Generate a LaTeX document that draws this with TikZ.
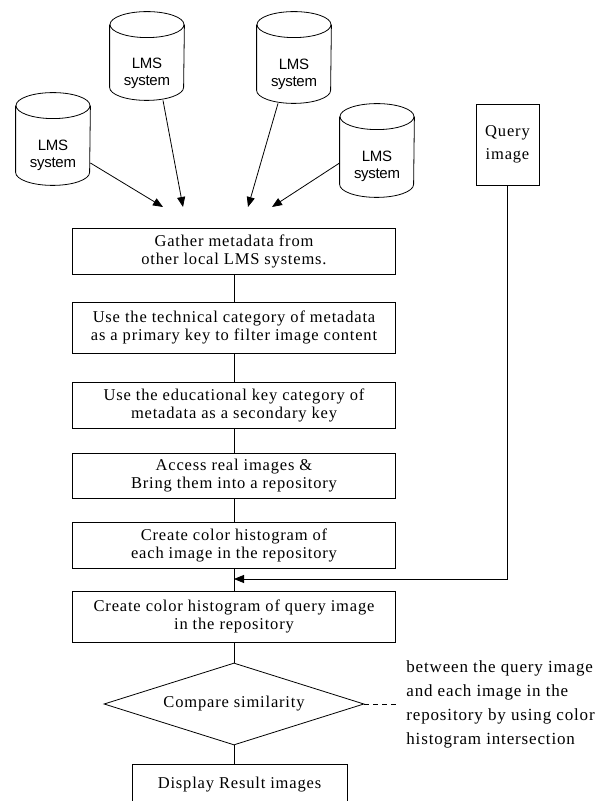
\documentclass[tikz,border=0pt]{standalone}
\usepackage{fontspec}
\setmainfont{Liberation Serif}[LetterSpace=5]
\newfontfamily\cylfont{Liberation Sans}[LetterSpace=-2]
\usetikzlibrary{arrows.meta,shapes.geometric}
\begin{document}
\begin{tikzpicture}[x=1pt,y=1pt,
  line width=0.8pt,
  every node/.style={inner sep=0pt},
  txt/.style={font=\fontsize{16.5}{18}\selectfont, align=center},
  stepbox/.style={draw, txt, minimum width=323pt},
  cylbox/.style={minimum width=74pt},
  cyltext/.style={font=\cylfont\fontsize{15}{17}\selectfont, align=center},
  arr/.style={-{Triangle[length=10pt,width=8pt]}},
  ]
\useasboundingbox (0,0) rectangle (606,801);
\clip (0,0) rectangle (606,801);
% cylinders
\newcommand\cylout[1]{%
  \draw ([yshift=-13pt]#1.north) ellipse [x radius=37pt, y radius=13pt];
  \draw ([yshift=-13pt]#1.north west) -- ([yshift=13pt]#1.south west)
    arc [start angle=180, end angle=360, x radius=37pt, y radius=13pt]
    -- ([yshift=-13pt]#1.north east);}
\node[cylbox, minimum height=92pt] (c1) at (53,662) {};
\node[cylbox, minimum height=88pt] (c2) at (147,745) {};
\node[cylbox, minimum height=91pt] (c3) at (294,743.5) {};
\node[cylbox, minimum height=93pt] (c4) at (377,650.5) {};
\cylout{c1}\cylout{c2}\cylout{c3}\cylout{c4}
\node[cyltext] (t1) at ([yshift=-16pt]c1.center) {LMS\\system};
\node[cyltext] (t2) at ([yshift=-17pt]c2.center) {LMS\\system};
\node[cyltext] (t3) at ([yshift=-17pt]c3.center) {LMS\\system};
\node[cyltext] (t4) at ([yshift=-16pt]c4.center) {LMS\\system};
\coordinate (a1) at (163,594);
\coordinate (a2) at (183,594);
\coordinate (a3) at (248,594);
\coordinate (a4) at (272,594);
\draw[arr] ([yshift=-24pt]c1.east) -- (a1);
\draw[arr] ([xshift=16pt]c2.south) -- (a2);
\draw[arr] ([xshift=-16pt]c3.south) -- (a3);
\draw[arr] ([yshift=-12.5pt]c4.west) -- (a4);
% query image
\node[draw, font=\fontsize{16.5}{23}\selectfont, align=center, minimum width=63pt, minimum height=81pt] (q) at (507.5,656.5) {Query\\image};
% main flow
\node[stepbox, minimum height=46pt] (b1) at (234,550) {Gather metadata from\\other local LMS systems.};
\node[stepbox, minimum height=51pt] (b2) at (234,473.5) {Use the technical category of metadata\\as a primary key to filter image content};
\node[stepbox, minimum height=46pt] (b3) at (234,396) {Use the educational key category of\\metadata as a secondary key};
\node[stepbox, minimum height=45pt] (b4) at (234,325.5) {Access real images \&\\Bring them into a repository};
\node[stepbox, minimum height=46pt] (b5) at (234,256) {Create color histogram of\\each image in the repository};
\node[stepbox, minimum height=51pt] (b6) at (234,184.5) {Create color histogram of query image\\in the repository};
\node[draw, diamond, aspect=3.17, minimum width=260pt, minimum height=82pt] (d) at (234,97) {};
\node[txt] (dt) at (d.center) {Compare similarity};
\node[stepbox, minimum width=215pt, minimum height=42pt] (b7) at (239.5,16) {Display Result images};
\draw (b1) -- (b2);
\draw (b2) -- (b3);
\draw (b3) -- (b4);
\draw (b4) -- (b5);
\draw (b5) -- (b6);
\draw (b6) -- (d);
\draw (d.south) -- (d.south |- b7.north);
\coordinate (j) at (234,222);
\draw[arr] (q.south) |- (j);
% annotation
\coordinate (dd) at (397,97);
\draw[dash pattern=on 5pt off 4pt] (d.east) -- (dd);
\node[anchor=west, font=\fontsize{17}{24}\selectfont, align=left] (note) at (406,97) {between the query image\\and each image in the\\repository by using color\\histogram intersection};
\end{tikzpicture}
\end{document}
